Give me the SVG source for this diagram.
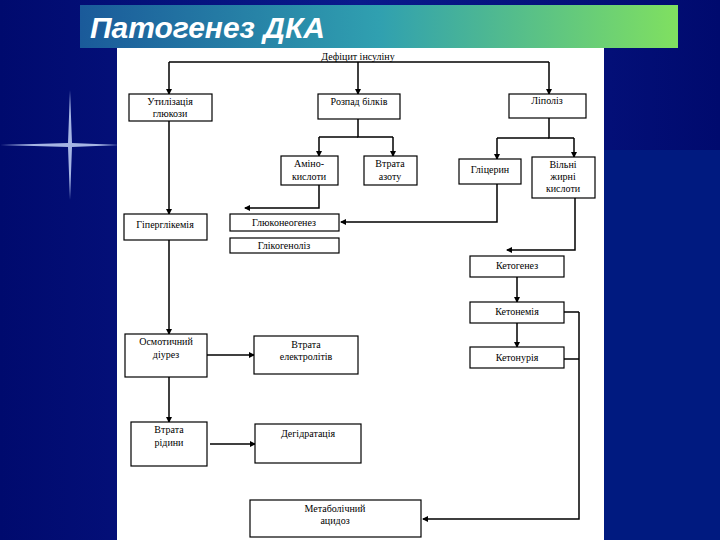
<svg xmlns="http://www.w3.org/2000/svg" width="720" height="540" viewBox="0 0 720 540">
<defs>
<linearGradient id="bg" x1="0" y1="0" x2="1" y2="0"><stop offset="0" stop-color="#000a6e"/><stop offset="0.5" stop-color="#0a1a8c"/><stop offset="1" stop-color="#000a6e"/></linearGradient>
<linearGradient id="tb" x1="0" y1="0" x2="1" y2="0"><stop offset="0" stop-color="#1a5a9a"/><stop offset="0.5" stop-color="#30a0b0"/><stop offset="1" stop-color="#80e060"/></linearGradient>
<marker id="a" viewBox="0 0 6 6" refX="5" refY="3" markerWidth="6" markerHeight="6" markerUnits="userSpaceOnUse" orient="auto"><path d="M0,0L6,3L0,6z" fill="#000"/></marker>
</defs>
<style>
.b{fill:#fff;stroke:#000;stroke-width:1.2}
.t{font-family:"Liberation Serif",serif;font-size:10px;fill:#000;text-anchor:middle}
.c{fill:none;stroke:#000;stroke-width:1.5}
.m{marker-end:url(#a)}
</style>
<rect width="720" height="540" fill="url(#bg)"/>
<rect x="604" y="150" width="116" height="390" fill="#001a80"/>
<rect x="80" y="5" width="598" height="43" fill="url(#tb)"/>
<text x="90" y="38" font-family="Liberation Sans,sans-serif" font-size="30" font-style="italic" font-weight="bold" fill="#fff">Патогенез ДКА</text>
<path d="M70,90L72,143L120,145L72,147L70,200L68,147L0,145L68,143z" fill="#cfe0ff" opacity="0.8"/>
<rect x="117" y="48" width="487" height="492" fill="#fff"/>
<text class="t" x="358" y="60">Дефіцит інсуліну</text>
<g id="connectors">
<path class="c" d="M169,62H549"/>
<path class="c m" d="M169,62V94"/><path class="c m" d="M358,62V94"/><path class="c m" d="M549,62V94"/>
<path class="c" d="M358,119V137H393"/><path class="c" d="M358,137H319"/>
<path class="c m" d="M319,137V156"/><path class="c m" d="M393,137V156"/>
<path class="c" d="M549,118V138H574"/><path class="c" d="M549,138H497"/>
<path class="c m" d="M497,138V159"/><path class="c m" d="M574,138V157"/>
<path class="c m" d="M319,185V208H245"/>
<path class="c m" d="M497,184V222H341"/>
<path class="c m" d="M169,121V214"/>
<path class="c m" d="M169,240V334"/>
<path class="c m" d="M575,198V250H507"/>
<path class="c m" d="M517,277V302"/>
<path class="c m" d="M517,323V347"/>
<path class="c" d="M564,312H579"/><path class="c" d="M564,359H579"/>
<path class="c m" d="M579,312V519H423"/>
<path class="c m" d="M207,355H254"/>
<path class="c m" d="M169,377V422"/>
<path class="c m" d="M210,444H255"/>
</g>
<g id="n1"><rect class="b" x="129" y="94" width="83" height="27"/><text class="t" x="170" y="105">Утилізація</text><text class="t" x="170" y="117">глюкози</text></g>
<g id="n2"><rect class="b" x="318" y="94" width="82" height="25"/><text class="t" x="359" y="105">Розпад білків</text></g>
<g id="n3"><rect class="b" x="509" y="94" width="77" height="24"/><text class="t" x="547" y="104">Ліполіз</text></g>
<g id="n4"><rect class="b" x="281" y="156" width="57" height="29"/><text class="t" x="309" y="167">Аміно-</text><text class="t" x="309" y="180">кислоти</text></g>
<g id="n5"><rect class="b" x="364" y="156" width="53" height="29"/><text class="t" x="390" y="167">Втрата</text><text class="t" x="390" y="180">азоту</text></g>
<g id="n6"><rect class="b" x="459" y="159" width="62" height="25"/><text class="t" x="490" y="173">Гліцерин</text></g>
<g id="n7"><rect class="b" x="532" y="157" width="63" height="41"/><text class="t" x="563" y="168">Вільні</text><text class="t" x="563" y="180">жирні</text><text class="t" x="563" y="192">кислоти</text></g>
<g id="n8"><rect class="b" x="230" y="214" width="109" height="17"/><text class="t" x="284" y="226">Глюконеогенез</text></g>
<g id="n9"><rect class="b" x="230" y="238" width="109" height="15"/><text class="t" x="284" y="249">Глікогеноліз</text></g>
<g id="n10"><rect class="b" x="124" y="214" width="83" height="26"/><text class="t" x="165" y="228">Гіперглікемія</text></g>
<g id="n11"><rect class="b" x="470" y="256" width="94" height="21"/><text class="t" x="517" y="269">Кетогенез</text></g>
<g id="n12"><rect class="b" x="470" y="302" width="94" height="21"/><text class="t" x="517" y="315">Кетонемія</text></g>
<g id="n13"><rect class="b" x="470" y="347" width="94" height="21"/><text class="t" x="517" y="361">Кетонурія</text></g>
<g id="n14"><rect class="b" x="125" y="334" width="82" height="43"/><text class="t" x="166" y="345">Осмотичний</text><text class="t" x="166" y="358">діурез</text></g>
<g id="n15"><rect class="b" x="254" y="336" width="104" height="38"/><text class="t" x="306" y="348">Втрата</text><text class="t" x="306" y="360">електролітів</text></g>
<g id="n16"><rect class="b" x="131" y="422" width="76" height="44"/><text class="t" x="169" y="433">Втрата</text><text class="t" x="169" y="446">рідини</text></g>
<g id="n17"><rect class="b" x="255" y="424" width="106" height="39"/><text class="t" x="308" y="437">Дегідратація</text></g>
<g id="n18"><rect class="b" x="250" y="500" width="171" height="37"/><text class="t" x="335" y="512">Метаболічний</text><text class="t" x="335" y="524">ацидоз</text></g>
</svg>
